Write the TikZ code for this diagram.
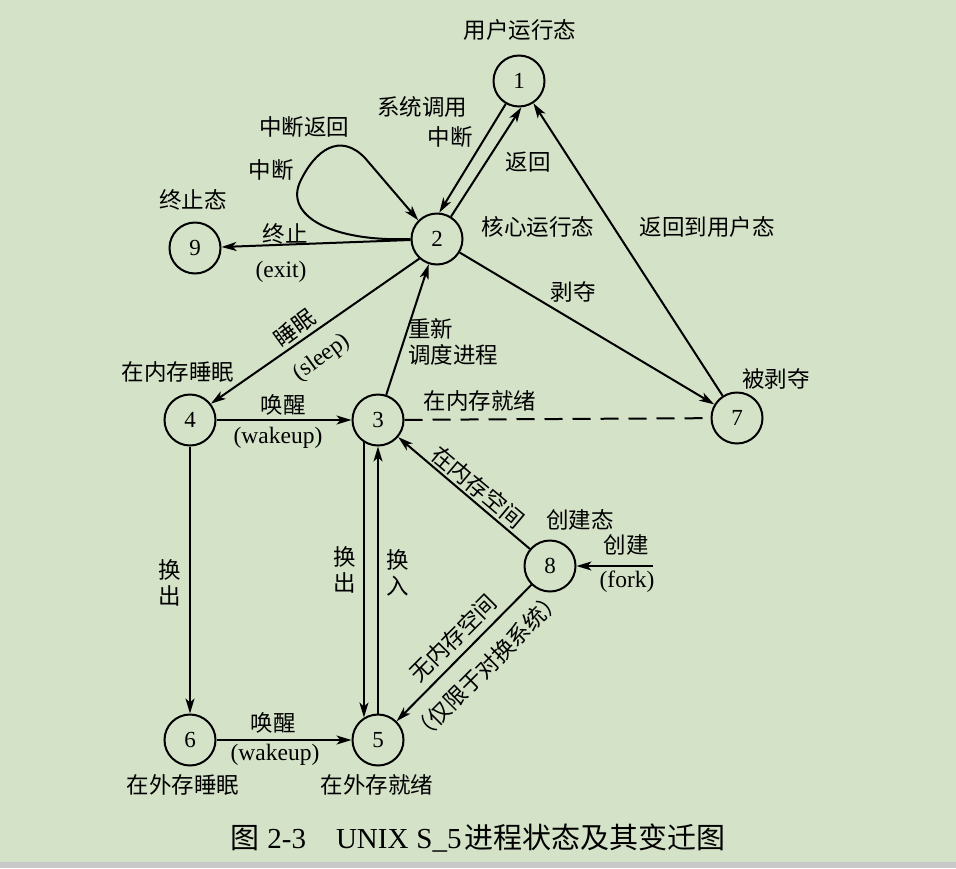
\documentclass[tikz,border=0pt]{standalone}
\usepackage{fontspec}
\setmainfont{Liberation Serif}
\newfontfamily\cjk{Noto Sans CJK SC}
\usetikzlibrary{arrows.meta,calc}
\definecolor{bgc}{RGB}{212,226,200}
\definecolor{barc}{RGB}{200,200,200}
\begin{document}
\begin{tikzpicture}[x=1pt,y=-1pt,
  st/.style={circle,draw,line width=2pt,minimum size=51pt,inner sep=0pt,font=\fontsize{23}{23}\selectfont},
  arr/.style={line width=2pt,-{Stealth[length=15pt,width=9pt,inset=4pt]}},
  ln/.style={line width=2pt},
  lb/.style={font=\fontsize{22.5}{26}\selectfont\cjk,inner sep=0pt,align=center},
  lt/.style={font=\fontsize{23.5}{24}\selectfont,inner sep=0pt}]
\useasboundingbox (0,0) rectangle (956,868);
\fill[bgc] (0,0) rectangle (956,862);
\fill[barc] (0,862) rectangle (956,868);

% states
\node[st] (n1) at (519,81) {1};
\node[st] (n2) at (437,239) {2};
\node[st] (n9) at (195,248) {9};
\node[st] (n4) at (190,420) {4};
\node[st] (n3) at (378,420) {3};
\node[st] (n7) at (737,418) {7};
\node[st] (n8) at (550,566) {8};
\node[st] (n6) at (190,740) {6};
\node[st] (n5) at (378,740) {5};
\coordinate (fk) at (653,566);

% connectors
\draw[arr] (n1.240) -- (n2.85);
\draw[arr] (n2.58) -- (n1.275);
\draw[arr] (n2.180) .. controls (330,242) and (285,215) .. (300,182)
   .. controls (315,150) and (340,132) .. (365,158) -- (n2.135);
\draw[arr] (n2) -- (n9);
\draw[arr] (n2) -- (n7);
\draw[arr] (n7) -- (n1);
\draw[arr] (n2.228) -- (n4.38);
\draw[arr] (n3) -- (n2);
\draw[arr] (n4) -- (n3);
\draw[ln,dash pattern=on 18pt off 10pt] (n3) -- (n7);
\draw[arr] (n8) -- (n3);
\draw[arr] (n8) -- (n5);
\draw[arr] (fk) -- (n8);
\draw[arr] (n4) -- (n6);
\draw[arr] (n3.238) -- (n5.122);
\draw[arr] (n5.north) -- (n3.south);
\draw[arr] (n6) -- (n5);

% labels
\node[lb] (t1) at (520,30) {用户运行态};
\node[lb] (t2) at (422,107) {系统调用};
\node[lb] (t3) at (450,137) {中断};
\node[lb] (t4) at (528,162) {返回};
\node[lb] (t5) at (304,127) {中断返回};
\node[lb] (t6) at (271,170) {中断};
\node[lb] (t7) at (193,200) {终止态};
\node[lb] (t8) at (285,234) {终止};
\node[lt] (t9) at (281,272) {(exit)};
\node[lb] (t10) at (538,227) {核心运行态};
\node[lb] (t11) at (707,227) {返回到用户态};
\node[lb] (t12) at (573,292) {剥夺};
\node[lb,rotate=36] (t13) at (295,328) {睡眠};
\node[lt,rotate=36] (t14) at (322,358) {(sleep)};
\node[lb,align=left,anchor=west] (t15) at (408,342) {重新\\调度进程};
\node[lb] (t16) at (178,372) {在内存睡眠};
\node[lb] (t17) at (283,405) {唤醒};
\node[lt] (t18) at (278,438) {(wakeup)};
\node[lb] (t19) at (480,401) {在内存就绪};
\node[lb] (t20) at (776,379) {被剥夺};
\node[lb,rotate=-40] (t21) at (478,487) {在内存空间};
\node[lb] (t22) at (580,520) {创建态};
\node[lb] (t23) at (626,545) {创建};
\node[lt] (t24) at (627,582) {(fork)};
\node[lb] (t25) at (170,583) {换\\出};
\node[lb] (t26) at (345,570) {换\\出};
\node[lb] (t27) at (398,573) {换\\入};
\node[lb,rotate=45] (t28) at (453,638) {无内存空间};
\node[lb,rotate=45] (t29) at (487,666) {（仅限于对换系统）};
\node[lb] (t30) at (273,723) {唤醒};
\node[lt] (t31) at (275,755) {(wakeup)};
\node[lb] (t32) at (183,785) {在外存睡眠};
\node[lb] (t33) at (377,785) {在外存就绪};
\node[inner sep=0pt,font=\fontsize{29}{30}\selectfont] (cap) at (478,838)
  {{\cjk 图}\hspace{8pt}2-3\hspace{30pt}UNIX\hspace{8pt}S\_5\hspace{3pt}{\cjk 进程状态及其变迁图}};
\end{tikzpicture}
\end{document}
